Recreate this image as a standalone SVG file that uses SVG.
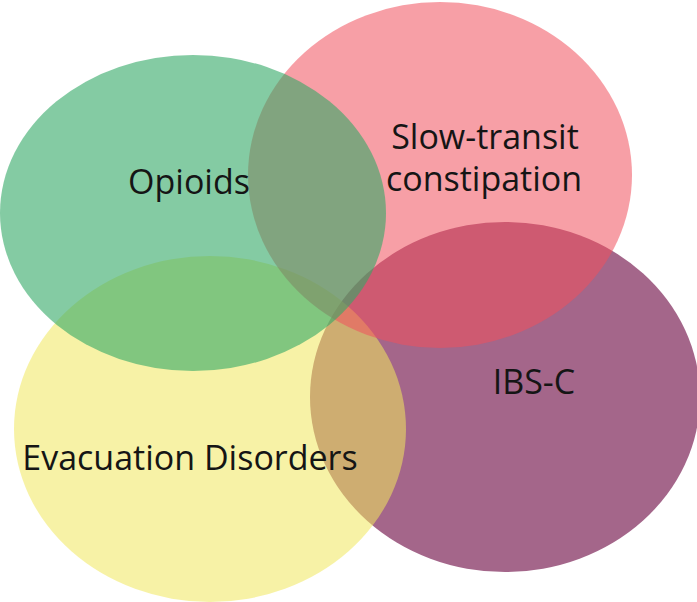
<svg xmlns="http://www.w3.org/2000/svg" width="697" height="602" viewBox="0 0 697 602">
<style>
.lbl{font-family:"Open Sans","Liberation Sans",sans-serif;font-size:34px;fill:#151515;text-anchor:middle}
</style>
<rect width="697" height="602" fill="#ffffff"/>
<g id="ibs-c"><ellipse cx="505" cy="397" rx="195" ry="175" fill="#a4668a"/></g>
<g id="evacuation"><ellipse cx="210" cy="429" rx="196" ry="173" fill="#f0e75d" fill-opacity="0.55"/></g>
<g id="slow-transit"><ellipse cx="440" cy="175" rx="192" ry="173" fill="#f0505c" fill-opacity="0.55"/></g>
<g id="opioids"><ellipse cx="193" cy="213" rx="193" ry="158" fill="#32a866" fill-opacity="0.6"/></g>
<g id="connectors"></g>
<g id="labels">
<text class="lbl" x="189" y="194">Opioids</text>
<text class="lbl" x="485" y="149">Slow-transit</text>
<text class="lbl" x="484" y="191">constipation</text>
<text class="lbl" x="534" y="394">IBS-C</text>
<text class="lbl" x="190" y="470">Evacuation Disorders</text>
</g>
</svg>
